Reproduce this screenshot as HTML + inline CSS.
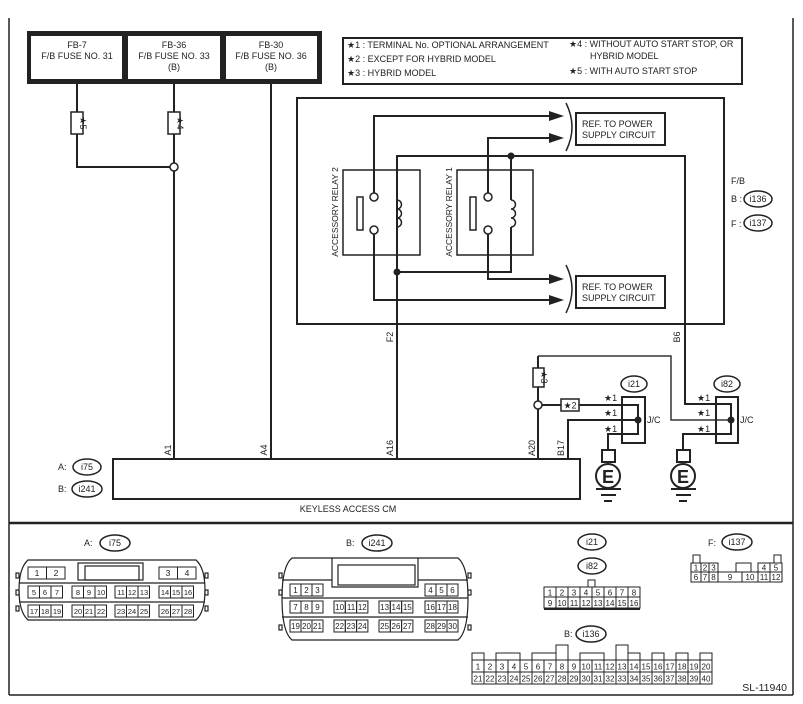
<!DOCTYPE html>
<html><head><meta charset="utf-8"><style>
html,body{margin:0;padding:0;background:#fff;}
svg{display:block;font-family:"Liberation Sans",Arial,sans-serif;}
text{fill:#222;}
</style></head><body>
<svg width="803" height="704" viewBox="0 0 803 704" xmlns="http://www.w3.org/2000/svg">
<g fill="none" stroke="#222" stroke-width="1.5">
<line x1="9" y1="18" x2="9" y2="695"/>
<line x1="793" y1="18" x2="793" y2="695"/>
<line x1="9" y1="695" x2="793" y2="695"/>
</g>
<line x1="9" y1="523" x2="793" y2="523" stroke="#222" stroke-width="2.5"/>

<!-- fuse box -->
<rect x="27" y="31" width="295" height="53" fill="#222"/>
<rect x="31" y="36" width="91" height="43" fill="#fff"/>
<rect x="128" y="36" width="92" height="43" fill="#fff"/>
<rect x="226" y="36" width="91" height="43" fill="#fff"/>
<g font-size="9" text-anchor="middle">
<text x="77" y="48">FB-7</text><text x="77" y="59">F/B FUSE NO. 31</text>
<text x="174" y="48">FB-36</text><text x="174" y="59">F/B FUSE NO. 33</text><text x="174" y="70">(B)</text>
<text x="271" y="48">FB-30</text><text x="271" y="59">F/B FUSE NO. 36</text><text x="271" y="70">(B)</text>
</g>

<!-- legend -->
<rect x="343" y="38" width="399" height="46" fill="none" stroke="#222" stroke-width="2"/>
<g font-size="9">
<text x="347" y="48">★1 : TERMINAL No. OPTIONAL ARRANGEMENT</text>
<text x="347" y="62">★2 : EXCEPT FOR HYBRID MODEL</text>
<text x="347" y="76">★3 : HYBRID MODEL</text>
<text x="569" y="47">★4 : WITHOUT AUTO START STOP, OR</text>
<text x="590" y="59">HYBRID MODEL</text>
<text x="569" y="74">★5 : WITH AUTO START STOP</text>
</g>

<!-- wires left -->
<g fill="none" stroke="#222" stroke-width="2">
<polyline points="77,84 77,167 174,167"/>
<line x1="174" y1="84" x2="174" y2="459"/>
<line x1="271" y1="84" x2="271" y2="459"/>
</g>
<rect x="71" y="112" width="12" height="22" fill="#fff" stroke="#222" stroke-width="1.5"/>
<rect x="168" y="112" width="12" height="22" fill="#fff" stroke="#222" stroke-width="1.5"/>
<text transform="translate(80,123) rotate(90)" font-size="9" text-anchor="middle">★5</text>
<text transform="translate(177,123) rotate(90)" font-size="9" text-anchor="middle">★4</text>
<circle cx="174" cy="167" r="4" fill="#fff" stroke="#222" stroke-width="1.5"/>

<!-- F/B box -->
<rect x="297" y="98" width="427" height="226" fill="none" stroke="#222" stroke-width="2"/>
<rect x="343" y="170" width="77" height="85" fill="none" stroke="#222" stroke-width="1.5"/>
<rect x="457" y="170" width="76" height="85" fill="none" stroke="#222" stroke-width="1.5"/>
<text transform="translate(338,212) rotate(-90)" font-size="8.5" text-anchor="middle">ACCESSORY RELAY 2</text>
<text transform="translate(452,212) rotate(-90)" font-size="8.5" text-anchor="middle">ACCESSORY RELAY 1</text>
<rect x="357" y="197" width="6" height="33" fill="none" stroke="#222" stroke-width="1.5"/>
<rect x="470" y="197" width="6" height="33" fill="none" stroke="#222" stroke-width="1.5"/>

<g fill="none" stroke="#222" stroke-width="2">
<polyline points="374,193 374,116 551,116"/>
<polyline points="488,193 488,138 551,138"/>
<polyline points="488,234 488,279 551,279"/>
<polyline points="374,234 374,300 551,300"/>
<polyline points="397,459 397,156 685,156 685,404 731,404 731,434 716,434"/>
<polyline points="511,156 511,200"/>
<polyline points="511,227 511,272 397,272"/>
</g>
<g fill="none" stroke="#222" stroke-width="1.5">
<path d="M397,200 a4,4 0 1 1 0,9 a4,4 0 1 1 0,9 a4,4 0 1 1 0,9"/>
<path d="M511,200 a4,4 0 1 1 0,9 a4,4 0 1 1 0,9 a4,4 0 1 1 0,9"/>
<path d="M566,103 Q578,127 566,151"/>
<path d="M566,265 Q578,289 566,313"/>
</g>
<g fill="#222">
<polygon points="549,111 564,116 549,121"/>
<polygon points="549,133 564,138 549,143"/>
<polygon points="549,274 564,279 549,284"/>
<polygon points="549,295 564,300 549,305"/>
<circle cx="511" cy="156" r="3.5"/>
<circle cx="397" cy="272" r="3.5"/>
</g>
<g fill="#fff" stroke="#222" stroke-width="1.5">
<circle cx="374" cy="197" r="4"/><circle cx="374" cy="230" r="4"/>
<circle cx="488" cy="197" r="4"/><circle cx="488" cy="230" r="4"/>
</g>
<rect x="576" y="113" width="89" height="32" fill="none" stroke="#222" stroke-width="2"/>
<rect x="576" y="276" width="89" height="32" fill="none" stroke="#222" stroke-width="2"/>
<g font-size="9">
<text x="582" y="127">REF. TO POWER</text><text x="582" y="138">SUPPLY CIRCUIT</text>
<text x="582" y="290">REF. TO POWER</text><text x="582" y="301">SUPPLY CIRCUIT</text>
<text x="731" y="184">F/B</text>
<text x="731" y="202">B :</text>
<text x="731" y="227">F :</text>
</g>
<ellipse cx="758" cy="199" rx="14" ry="8" fill="none" stroke="#222" stroke-width="1.5"/>
<ellipse cx="758" cy="223" rx="14" ry="8" fill="none" stroke="#222" stroke-width="1.5"/>
<text x="758" y="202" font-size="9" text-anchor="middle">i136</text>
<text x="758" y="226" font-size="9" text-anchor="middle">i137</text>
<text transform="translate(393,337) rotate(-90)" font-size="9" text-anchor="middle">F2</text>
<text transform="translate(680,337) rotate(-90)" font-size="9" text-anchor="middle">B6</text>

<!-- right lower wiring -->
<g fill="none" stroke="#222" stroke-width="2">
<polyline points="538,459 538,356"/>
<polyline points="538,405 638,405 638,434 608,434 608,450"/>
<polyline points="568,459 568,420 638,420"/>
<polyline points="716,434 683,434 683,450"/>
</g>
<polyline points="538,356 671,356 671,420 731,420" fill="none" stroke="#333" stroke-width="1.5"/>
<rect x="533" y="368" width="11" height="19" fill="#fff" stroke="#222" stroke-width="1.5"/>
<text transform="translate(541,377) rotate(90)" font-size="9" text-anchor="middle">★3</text>
<rect x="561" y="399" width="18" height="12" fill="#fff" stroke="#222" stroke-width="1.5"/>
<text x="570" y="408.5" font-size="9" text-anchor="middle">★2</text>
<circle cx="538" cy="405" r="4" fill="#fff" stroke="#222" stroke-width="1.5"/>
<rect x="622" y="397" width="23" height="46" fill="none" stroke="#222" stroke-width="2"/>
<rect x="716" y="397" width="22" height="46" fill="none" stroke="#222" stroke-width="2"/>
<circle cx="638" cy="420" r="3.5" fill="#222"/>
<circle cx="731" cy="420" r="3.5" fill="#222"/>
<g font-size="9">
<text x="604" y="401">★1</text><text x="604" y="416">★1</text><text x="604" y="432">★1</text>
<text x="697" y="401">★1</text><text x="697" y="416">★1</text><text x="697" y="432">★1</text>
<text x="647" y="423">J/C</text><text x="740" y="423">J/C</text>
</g>
<ellipse cx="634" cy="384" rx="13" ry="8" fill="none" stroke="#222" stroke-width="1.5"/>
<ellipse cx="727" cy="384" rx="13" ry="8" fill="none" stroke="#222" stroke-width="1.5"/>
<text x="634" y="387" font-size="9" text-anchor="middle">i21</text>
<text x="727" y="387" font-size="9" text-anchor="middle">i82</text>
<!-- grounds -->
<g fill="none" stroke="#222" stroke-width="2">
<rect x="602" y="450" width="13" height="12"/>
<circle cx="608" cy="476" r="12"/>
<line x1="596" y1="489" x2="621" y2="489"/><line x1="601" y1="495" x2="616" y2="495"/><line x1="604" y1="501" x2="612" y2="501"/>
<rect x="677" y="450" width="13" height="12"/>
<circle cx="683" cy="476" r="12"/>
<line x1="671" y1="489" x2="696" y2="489"/><line x1="676" y1="495" x2="691" y2="495"/><line x1="679" y1="501" x2="687" y2="501"/>
</g>
<text x="608" y="483" font-size="18" font-weight="bold" text-anchor="middle">E</text>
<text x="683" y="483" font-size="18" font-weight="bold" text-anchor="middle">E</text>

<!-- CM -->
<rect x="113" y="459" width="467" height="40" fill="none" stroke="#222" stroke-width="2"/>
<text x="348" y="512" font-size="9" text-anchor="middle">KEYLESS ACCESS CM</text>
<g font-size="9" text-anchor="middle">
<text transform="translate(171,450) rotate(-90)">A1</text>
<text transform="translate(267,450) rotate(-90)">A4</text>
<text transform="translate(393,448) rotate(-90)">A16</text>
<text transform="translate(535,448) rotate(-90)">A20</text>
<text transform="translate(564,448) rotate(-90)">B17</text>
</g>
<text x="58" y="470" font-size="9">A:</text>
<text x="58" y="492" font-size="9">B:</text>
<ellipse cx="87" cy="467" rx="14" ry="8" fill="none" stroke="#222" stroke-width="1.5"/>
<ellipse cx="87" cy="489" rx="15" ry="8" fill="none" stroke="#222" stroke-width="1.5"/>
<text x="87" y="470" font-size="9" text-anchor="middle">i75</text>
<text x="87" y="492" font-size="9" text-anchor="middle">i241</text>

<!-- bottom connectors -->
<g font-size="9">
<text x="84" y="546">A:</text>
<text x="346" y="546">B:</text>
<text x="708" y="546">F:</text>
<text x="564" y="637">B:</text>
</g>
<g fill="none" stroke="#222" stroke-width="1.5">
<ellipse cx="115" cy="543" rx="15" ry="8"/>
<ellipse cx="377" cy="543" rx="15" ry="8"/>
<ellipse cx="592" cy="542" rx="14" ry="8"/>
<ellipse cx="592" cy="566" rx="14" ry="8"/>
<ellipse cx="737" cy="542" rx="15" ry="8"/>
<ellipse cx="591" cy="634" rx="15" ry="8"/>
</g>
<g font-size="9" text-anchor="middle">
<text x="115" y="546">i75</text><text x="377" y="546">i241</text>
<text x="592" y="545">i21</text><text x="592" y="569">i82</text>
<text x="737" y="545">i137</text><text x="591" y="637">i136</text>
</g>

<!-- A connector -->
<g fill="none" stroke="#222" stroke-width="1.2">
<path d="M28,560 L196,560 Q205,568 205,590 Q205,612 196,620 L28,620 Q19,612 19,590 Q19,568 28,560 Z"/>
<line x1="19" y1="583" x2="205" y2="583"/><line x1="19" y1="602" x2="205" y2="602"/>
<rect x="78" y="563" width="65" height="17"/><rect x="85" y="566" width="54" height="14"/>
<rect x="16" y="573" width="3" height="5"/><rect x="205" y="573" width="3" height="5"/>
<rect x="16" y="590" width="3" height="5"/><rect x="205" y="590" width="3" height="5"/>
<rect x="16" y="606" width="3" height="5"/><rect x="205" y="606" width="3" height="5"/>
</g>
<g id="acells" font-size="8" text-anchor="middle" stroke="#222" stroke-width="1" fill="none"></g>
<g fill="none" stroke="#222" stroke-width="1">
<rect x="28" y="567" width="18.5" height="12"/><rect x="46.5" y="567" width="18.5" height="12"/>
<rect x="159" y="567" width="18.5" height="12"/><rect x="177.5" y="567" width="18.5" height="12"/>
</g>
<g font-size="8.5" text-anchor="middle">
<text x="37" y="576">1</text><text x="56" y="576">2</text><text x="168" y="576">3</text><text x="187" y="576">4</text>
</g>
<g fill="none" stroke="#222" stroke-width="1">
<rect x="28" y="586" width="11.5" height="12"/><rect x="39.5" y="586" width="11.5" height="12"/><rect x="51" y="586" width="11.5" height="12"/>
<rect x="72" y="586" width="11.5" height="12"/><rect x="83.5" y="586" width="11.5" height="12"/><rect x="95" y="586" width="11.5" height="12"/>
<rect x="115" y="586" width="11.5" height="12"/><rect x="126.5" y="586" width="11.5" height="12"/><rect x="138" y="586" width="11.5" height="12"/>
<rect x="159" y="586" width="11.5" height="12"/><rect x="170.5" y="586" width="11.5" height="12"/><rect x="182" y="586" width="11.5" height="12"/>
<rect x="28" y="605" width="11.5" height="12"/><rect x="39.5" y="605" width="11.5" height="12"/><rect x="51" y="605" width="11.5" height="12"/>
<rect x="72" y="605" width="11.5" height="12"/><rect x="83.5" y="605" width="11.5" height="12"/><rect x="95" y="605" width="11.5" height="12"/>
<rect x="115" y="605" width="11.5" height="12"/><rect x="126.5" y="605" width="11.5" height="12"/><rect x="138" y="605" width="11.5" height="12"/>
<rect x="159" y="605" width="11.5" height="12"/><rect x="170.5" y="605" width="11.5" height="12"/><rect x="182" y="605" width="11.5" height="12"/>
</g>
<g font-size="7.5" text-anchor="middle">
<text x="34" y="595">5</text><text x="45" y="595">6</text><text x="57" y="595">7</text>
<text x="78" y="595">8</text><text x="89" y="595">9</text><text x="101" y="595">10</text>
<text x="121" y="595">11</text><text x="132" y="595">12</text><text x="144" y="595">13</text>
<text x="165" y="595">14</text><text x="176" y="595">15</text><text x="188" y="595">16</text>
<text x="34" y="614">17</text><text x="45" y="614">18</text><text x="57" y="614">19</text>
<text x="78" y="614">20</text><text x="89" y="614">21</text><text x="101" y="614">22</text>
<text x="121" y="614">23</text><text x="132" y="614">24</text><text x="144" y="614">25</text>
<text x="165" y="614">26</text><text x="176" y="614">27</text><text x="188" y="614">28</text>
</g>

<!-- B connector -->
<g fill="none" stroke="#222" stroke-width="1.2">
<path d="M292,558 L458,558 Q468,566 468,598 Q468,632 458,640 L292,640 Q282,632 282,598 Q282,566 292,558 Z"/>
<line x1="282" y1="580" x2="332" y2="580"/><line x1="418" y1="580" x2="468" y2="580"/>
<line x1="282" y1="598" x2="468" y2="598"/><line x1="282" y1="617" x2="468" y2="617"/>
<path d="M332,558 L332,587 L418,587 L418,558"/>
<rect x="338" y="565" width="77" height="20"/>
<rect x="279" y="573" width="3" height="5"/><rect x="468" y="573" width="3" height="5"/>
<rect x="279" y="590" width="3" height="5"/><rect x="468" y="590" width="3" height="5"/>
<rect x="279" y="625" width="3" height="5"/><rect x="468" y="625" width="3" height="5"/>
</g>
<g fill="none" stroke="#222" stroke-width="1">
<rect x="290" y="584" width="11" height="12"/><rect x="301" y="584" width="11" height="12"/><rect x="312" y="584" width="11" height="12"/>
<rect x="425" y="584" width="11" height="12"/><rect x="436" y="584" width="11" height="12"/><rect x="447" y="584" width="11" height="12"/>
<rect x="290" y="601" width="11" height="12"/><rect x="301" y="601" width="11" height="12"/><rect x="312" y="601" width="11" height="12"/>
<rect x="334" y="601" width="11.3" height="12"/><rect x="345.3" y="601" width="11.3" height="12"/><rect x="356.6" y="601" width="11.3" height="12"/>
<rect x="379" y="601" width="11.3" height="12"/><rect x="390.3" y="601" width="11.3" height="12"/><rect x="401.6" y="601" width="11.3" height="12"/>
<rect x="425" y="601" width="11" height="12"/><rect x="436" y="601" width="11" height="12"/><rect x="447" y="601" width="11" height="12"/>
<rect x="290" y="620" width="11" height="12"/><rect x="301" y="620" width="11" height="12"/><rect x="312" y="620" width="11" height="12"/>
<rect x="334" y="620" width="11.3" height="12"/><rect x="345.3" y="620" width="11.3" height="12"/><rect x="356.6" y="620" width="11.3" height="12"/>
<rect x="379" y="620" width="11.3" height="12"/><rect x="390.3" y="620" width="11.3" height="12"/><rect x="401.6" y="620" width="11.3" height="12"/>
<rect x="425" y="620" width="11" height="12"/><rect x="436" y="620" width="11" height="12"/><rect x="447" y="620" width="11" height="12"/>
</g>
<g font-size="8" text-anchor="middle">
<text x="295.5" y="593">1</text><text x="306.5" y="593">2</text><text x="317.5" y="593">3</text>
<text x="430.5" y="593">4</text><text x="441.5" y="593">5</text><text x="452.5" y="593">6</text>
<text x="295.5" y="610">7</text><text x="306.5" y="610">8</text><text x="317.5" y="610">9</text>
<text x="339.6" y="610">10</text><text x="351" y="610">11</text><text x="362.3" y="610">12</text>
<text x="384.6" y="610">13</text><text x="396" y="610">14</text><text x="407.3" y="610">15</text>
<text x="430.5" y="610">16</text><text x="441.5" y="610">17</text><text x="452.5" y="610">18</text>
<text x="295.5" y="629">19</text><text x="306.5" y="629">20</text><text x="317.5" y="629">21</text>
<text x="339.6" y="629">22</text><text x="351" y="629">23</text><text x="362.3" y="629">24</text>
<text x="384.6" y="629">25</text><text x="396" y="629">26</text><text x="407.3" y="629">27</text>
<text x="430.5" y="629">28</text><text x="441.5" y="629">29</text><text x="452.5" y="629">30</text>
</g>

<!-- 16 pin i21/i82 -->
<g fill="none" stroke="#222" stroke-width="1">
<rect x="588" y="580" width="7" height="7"/>
<rect x="544" y="587" width="96" height="21"/>
<line x1="544" y1="597" x2="640" y2="597"/>
<line x1="556" y1="587" x2="556" y2="608"/><line x1="568" y1="587" x2="568" y2="608"/>
<line x1="580" y1="587" x2="580" y2="608"/><line x1="592" y1="587" x2="592" y2="608"/>
<line x1="604" y1="587" x2="604" y2="608"/><line x1="616" y1="587" x2="616" y2="608"/>
<line x1="628" y1="587" x2="628" y2="608"/>
</g>
<line x1="544" y1="609" x2="640" y2="609" stroke="#222" stroke-width="2"/>
<g font-size="8" text-anchor="middle">
<text x="550" y="595.5">1</text><text x="562" y="595.5">2</text><text x="574" y="595.5">3</text><text x="586" y="595.5">4</text>
<text x="598" y="595.5">5</text><text x="610" y="595.5">6</text><text x="622" y="595.5">7</text><text x="634" y="595.5">8</text>
<text x="550" y="606">9</text><text x="562" y="606">10</text><text x="574" y="606">11</text><text x="586" y="606">12</text>
<text x="598" y="606">13</text><text x="610" y="606">14</text><text x="622" y="606">15</text><text x="634" y="606">16</text>
</g>

<!-- F i137 -->
<g fill="none" stroke="#222" stroke-width="1">
<rect x="693" y="555" width="7" height="8"/><rect x="774" y="555" width="7" height="8"/>
<rect x="691" y="563" width="27" height="19"/>
<line x1="691" y1="572" x2="718" y2="572"/>
<line x1="701" y1="563" x2="701" y2="582"/><line x1="709" y1="563" x2="709" y2="582"/>
<rect x="758" y="563" width="24" height="19"/>
<line x1="758" y1="572" x2="782" y2="572"/><line x1="770" y1="563" x2="770" y2="582"/>
<rect x="736" y="563" width="15" height="9"/>
<rect x="718" y="572" width="40" height="10"/>
<line x1="742" y1="572" x2="742" y2="582"/>
</g>
<g font-size="8" text-anchor="middle">
<text x="696" y="570.5">1</text><text x="705" y="570.5">2</text><text x="713.5" y="570.5">3</text>
<text x="764" y="570.5">4</text><text x="776" y="570.5">5</text>
<text x="696" y="580">6</text><text x="705" y="580">7</text><text x="713.5" y="580">8</text>
<text x="730" y="580">9</text><text x="750" y="580">10</text>
<text x="764" y="580">11</text><text x="776" y="580">12</text>
</g>

<!-- B i136 40 pin -->
<g fill="none" stroke="#222" stroke-width="1">
<rect x="472" y="653" width="12" height="7"/>
<rect x="496" y="653" width="24" height="7"/>
<rect x="532" y="653" width="24" height="7"/>
<rect x="556" y="645" width="12" height="15"/>
<rect x="580" y="653" width="24" height="7"/>
<rect x="616" y="645" width="12" height="15"/>
<rect x="628" y="653" width="12" height="7"/>
<rect x="652" y="653" width="12" height="7"/>
<rect x="676" y="653" width="12" height="7"/>
<rect x="700" y="653" width="12" height="7"/>
<rect x="472" y="660" width="240" height="24"/>
<line x1="472" y1="672" x2="712" y2="672"/>
</g>
<g stroke="#222" stroke-width="1">
<line x1="484" y1="660" x2="484" y2="684"/><line x1="496" y1="660" x2="496" y2="684"/><line x1="508" y1="660" x2="508" y2="684"/>
<line x1="520" y1="660" x2="520" y2="684"/><line x1="532" y1="660" x2="532" y2="684"/><line x1="544" y1="660" x2="544" y2="684"/>
<line x1="556" y1="660" x2="556" y2="684"/><line x1="568" y1="660" x2="568" y2="684"/><line x1="580" y1="660" x2="580" y2="684"/>
<line x1="592" y1="660" x2="592" y2="684"/><line x1="604" y1="660" x2="604" y2="684"/><line x1="616" y1="660" x2="616" y2="684"/>
<line x1="628" y1="660" x2="628" y2="684"/><line x1="640" y1="660" x2="640" y2="684"/><line x1="652" y1="660" x2="652" y2="684"/>
<line x1="664" y1="660" x2="664" y2="684"/><line x1="676" y1="660" x2="676" y2="684"/><line x1="688" y1="660" x2="688" y2="684"/>
<line x1="700" y1="660" x2="700" y2="684"/>
</g>
<g font-size="8" text-anchor="middle">
<text x="478" y="669.5">1</text><text x="490" y="669.5">2</text><text x="502" y="669.5">3</text><text x="514" y="669.5">4</text><text x="526" y="669.5">5</text>
<text x="538" y="669.5">6</text><text x="550" y="669.5">7</text><text x="562" y="669.5">8</text><text x="574" y="669.5">9</text><text x="586" y="669.5">10</text>
<text x="598" y="669.5">11</text><text x="610" y="669.5">12</text><text x="622" y="669.5">13</text><text x="634" y="669.5">14</text><text x="646" y="669.5">15</text>
<text x="658" y="669.5">16</text><text x="670" y="669.5">17</text><text x="682" y="669.5">18</text><text x="694" y="669.5">19</text><text x="706" y="669.5">20</text>
<text x="478" y="681.5">21</text><text x="490" y="681.5">22</text><text x="502" y="681.5">23</text><text x="514" y="681.5">24</text><text x="526" y="681.5">25</text>
<text x="538" y="681.5">26</text><text x="550" y="681.5">27</text><text x="562" y="681.5">28</text><text x="574" y="681.5">29</text><text x="586" y="681.5">30</text>
<text x="598" y="681.5">31</text><text x="610" y="681.5">32</text><text x="622" y="681.5">33</text><text x="634" y="681.5">34</text><text x="646" y="681.5">35</text>
<text x="658" y="681.5">36</text><text x="670" y="681.5">37</text><text x="682" y="681.5">38</text><text x="694" y="681.5">39</text><text x="706" y="681.5">40</text>
</g>
<text x="787" y="691" font-size="10.5" text-anchor="end">SL-11940</text>
</svg>
</body></html>
